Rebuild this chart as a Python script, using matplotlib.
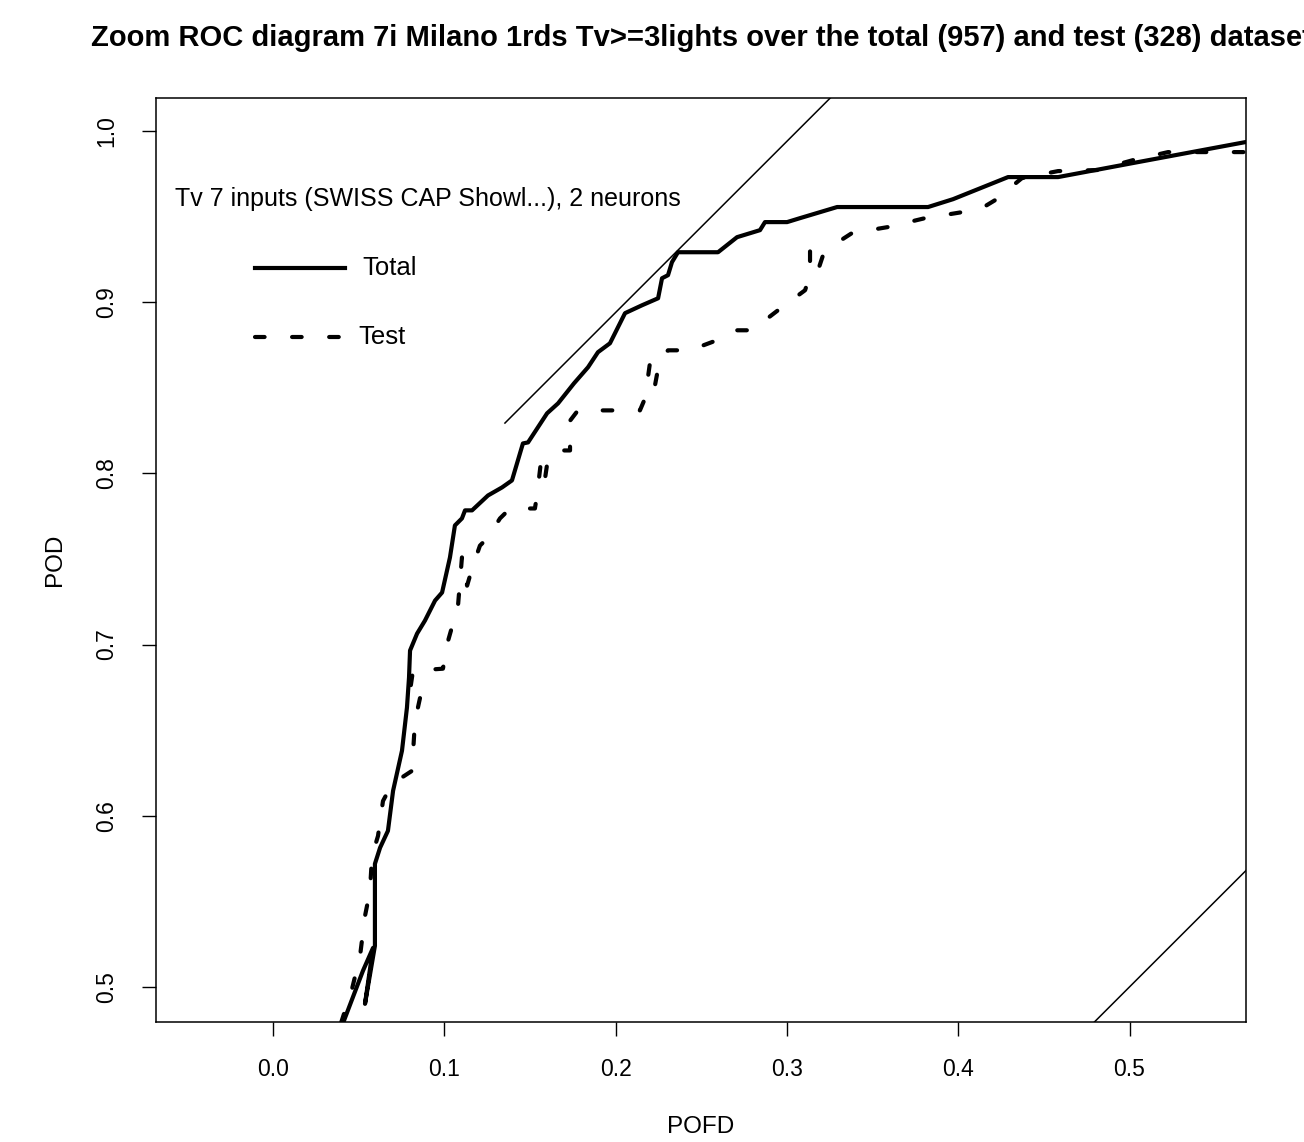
#! /usr/bin/python3

import matplotlib
matplotlib.use("Agg")
import matplotlib.pyplot as plt

plt.rcParams['font.family'] = ['Liberation Sans', 'DejaVu Sans']

# ROC points (POFD, POD)
total_pofd = [0.0409, 0.0525, 0.0584, 0.0537, 0.0595, 0.0595, 0.0625, 0.0671, 0.0701, 0.0753,
              0.0782, 0.0794, 0.0800, 0.0841, 0.0887, 0.0946, 0.0987, 0.1033, 0.1062, 0.1103,
              0.1121, 0.1162, 0.1255, 0.1337, 0.1395, 0.1459, 0.1489, 0.1600, 0.1664, 0.1757,
              0.1839, 0.1897, 0.1967, 0.2055, 0.2154, 0.2248, 0.2271, 0.2306, 0.2329, 0.2364,
              0.2598, 0.2709, 0.2843, 0.2872, 0.3001, 0.3076, 0.3293, 0.3824, 0.3970, 0.4291,
              0.4583, 0.5020, 0.5680]
total_pod = [0.4789, 0.5094, 0.5228, 0.4901, 0.5240, 0.5719, 0.5813, 0.5912, 0.6146, 0.6380,
             0.6632, 0.6807, 0.6965, 0.7064, 0.7140, 0.7257, 0.7304, 0.7509, 0.7696, 0.7737,
             0.7784, 0.7784, 0.7871, 0.7918, 0.7959, 0.8175, 0.8181, 0.8351, 0.8409, 0.8526,
             0.8620, 0.8708, 0.8760, 0.8936, 0.8982, 0.9023, 0.9140, 0.9158, 0.9234, 0.9292,
             0.9292, 0.9380, 0.9421, 0.9468, 0.9468, 0.9491, 0.9556, 0.9556, 0.9602, 0.9731,
             0.9731, 0.9813, 0.9936]

test_pofd = [0.0397, 0.0461, 0.0508, 0.0537, 0.0566, 0.0578, 0.0613, 0.0642, 0.0695, 0.0811,
             0.0829, 0.0870, 0.0800, 0.0817, 0.0992, 0.1022, 0.1080, 0.1103, 0.1133, 0.1162,
             0.1208, 0.1255, 0.1325, 0.1384, 0.1529, 0.1541, 0.1565, 0.1588, 0.1605, 0.1658,
             0.1734, 0.1734, 0.1722, 0.1780, 0.2142, 0.2172, 0.2201, 0.2230, 0.2259, 0.2306,
             0.2434, 0.2592, 0.2697, 0.2796, 0.2948, 0.3106, 0.3135, 0.3135, 0.3182, 0.3211,
             0.3298, 0.3380, 0.3590, 0.3806, 0.4022, 0.4139, 0.4215, 0.4372, 0.4583, 0.4810,
             0.5020, 0.5225, 0.5680]
test_pod = [0.4789, 0.4987, 0.5180, 0.5414, 0.5560, 0.5765, 0.5882, 0.6086, 0.6186, 0.6262,
            0.6554, 0.6742, 0.6730, 0.6847, 0.6859, 0.7022, 0.7227, 0.7509, 0.7344, 0.7444,
            0.7578, 0.7625, 0.7737, 0.7795, 0.7795, 0.7871, 0.8075, 0.7970, 0.8087, 0.8134,
            0.8134, 0.8204, 0.8292, 0.8368, 0.8368, 0.8439, 0.8649, 0.8515, 0.8672, 0.8719,
            0.8719, 0.8778, 0.8836, 0.8836, 0.8953, 0.9070, 0.9158, 0.9304, 0.9187, 0.9275,
            0.9351, 0.9404, 0.9439, 0.9491, 0.9526, 0.9550, 0.9596, 0.9725, 0.9766, 0.9772,
            0.9830, 0.9877, 0.9877]

# tangent (iso-line) and the diagonal
tangent_x = [0.1354, 0.40]
tangent_offset = 0.694
diag_x = [0.0, 1.0]

xticks = [0.0, 0.1, 0.2, 0.3, 0.4, 0.5]
yticks = [0.5, 0.6, 0.7, 0.8, 0.9, 1.0]

title = "Zoom ROC diagram 7i Milano 1rds Tv>=3lights over the total (957) and test (328) dataset"
legend_title = "Tv 7 inputs (SWISS CAP Showl...), 2 neurons"

fig = plt.figure(figsize=(13.04, 11.42), dpi=100)
ax = fig.add_axes([156 / 1304, 1 - 1022 / 1142, 1090 / 1304, 924 / 1142])

dash = (0, (2.3, 6.6))
ax.plot(total_pofd, total_pod, color='black', lw=3, solid_joinstyle='round', solid_capstyle='round')
ax.plot(test_pofd, test_pod, color='black', lw=3, linestyle=dash, dash_capstyle='round',
        dash_joinstyle='round')
ax.plot(tangent_x, [v + tangent_offset for v in tangent_x], color='black', lw=1.1)
ax.plot(diag_x, diag_x, color='black', lw=1.1)

ax.set_xlim(-0.0683, 0.568)
ax.set_ylim(0.4795, 1.0193)
ax.set_xticks(xticks)
ax.set_yticks(yticks)
ax.set_xticklabels([f"{v:.1f}" for v in xticks])
ax.set_yticklabels([f"{v:.1f}" for v in yticks], rotation=90, va='center')
ax.tick_params(axis='both', length=10, width=1.0, labelsize=16.5, direction='out')
ax.tick_params(axis='x', pad=16)
ax.tick_params(axis='y', pad=17)
for s in ax.spines.values():
    s.set_linewidth(1.1)

# legend drawn by hand, like R's legend(bty="n")
ax.text(0.0174, 0.8907, legend_title, transform=ax.transAxes, fontsize=18, va='center')
ax.plot([0.0908, 0.1734], [0.816, 0.816], transform=ax.transAxes, color='black', lw=3)
ax.plot([0.0908, 0.1734], [0.7413, 0.7413], transform=ax.transAxes, color='black', lw=3,
        linestyle=dash, dash_capstyle='round')
ax.text(0.189, 0.816, "Total", transform=ax.transAxes, fontsize=18.5, va='center')
ax.text(0.1853, 0.7413, "Test", transform=ax.transAxes, fontsize=18.5, va='center')

fig.text(701 / 1304, 1 - 38 / 1142, title, ha='center', va='center', fontsize=21, fontweight='bold')
fig.text(701 / 1304, 1 - 1127 / 1142, "POFD", ha='center', va='center', fontsize=17.5)
fig.text(55 / 1304, 1 - 560 / 1142, "POD", ha='center', va='center', fontsize=17.5, rotation=90)

fig.savefig("out.png", dpi=100)
